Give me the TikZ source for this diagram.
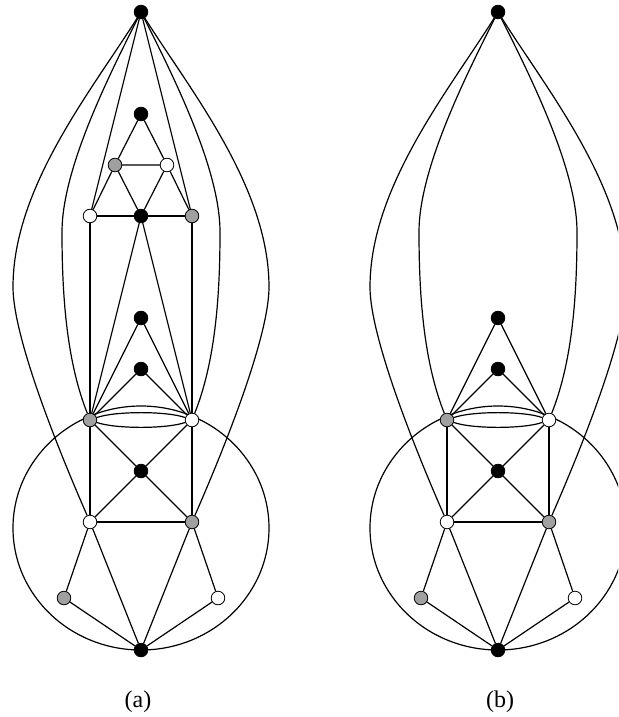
\documentclass[tikz,border=0pt]{standalone}
\usepackage{fontspec}
\setmainfont{Liberation Serif}
\usepackage{xcolor}
\definecolor{vgray}{HTML}{A0A0A0}
\tikzset{
  vtx/.style={circle, draw=black, line width=0.4pt, inner sep=0pt, minimum size=6.8pt},
  vblack/.style={vtx, fill=black},
  vgrey/.style={vtx, fill=vgray},
  vwhite/.style={vtx, fill=white},
  edge/.style={line width=0.6pt}
}
\begin{document}
\begin{tikzpicture}[x=0.5pt, y=-0.5pt]
\useasboundingbox (0,0) rectangle (618,717);
\clip (0,0) rectangle (618,717);
% Common part of both graphs
\foreach \p/\dx/\lx in {a/0/138, b/357/500} {
  % Outer circle
  \draw[edge] (\dx+141,528) ellipse (128 and 122);
  % Vertices
  \node[vblack] (\p-top) at (\dx+141,12) {};
  \node[vblack] (\p-b1) at (\dx+141,318) {};
  \node[vblack] (\p-b2) at (\dx+141,369) {};
  \node[vgrey] (\p-gl) at (\dx+90,420) {};
  \node[vwhite] (\p-wr) at (\dx+192,420) {};
  \node[vblack] (\p-c2) at (\dx+141,471) {};
  \node[vwhite] (\p-wl) at (\dx+90,522) {};
  \node[vgrey] (\p-gr) at (\dx+192,522) {};
  \node[vgrey] (\p-gll) at (\dx+64,598) {};
  \node[vwhite] (\p-wrr) at (\dx+218,598) {};
  \node[vblack] (\p-bot) at (\dx+141,650) {};
  % Edges
  \draw[edge] (\p-b1) -- (\p-gl) (\p-b1) -- (\p-wr);
  \draw[edge] (\p-b2) -- (\p-gl) (\p-b2) -- (\p-wr);
  \draw[edge] (\p-gl) .. controls (\dx+115,411) and (\dx+167,411) .. (\p-wr);
  \draw[edge] (\p-gl) .. controls (\dx+115,429) and (\dx+167,429) .. (\p-wr);
  \draw[edge] (\p-gl) -- (\p-c2) -- (\p-wr);
  \draw[edge] (\p-wl) -- (\p-c2) -- (\p-gr);
  \draw[edge] (\p-gl) -- (\p-wl) -- (\p-gr) -- (\p-wr);
  \draw[edge] (\p-wl) -- (\p-gll) -- (\p-bot);
  \draw[edge] (\p-wl) -- (\p-bot) -- (\p-gr);
  \draw[edge] (\p-gr) -- (\p-wrr) -- (\p-bot);
  % Curves from the top vertex
  \draw[edge] (\p-top) .. controls (\dx+92,90) and (\dx+13,187) .. (\dx+13,287)
    .. controls (\dx+13,337) and (\dx+58,449) .. (\p-wl);
  \draw[edge] (\p-top) .. controls (\dx+190,90) and (\dx+269,187) .. (\dx+269,287)
    .. controls (\dx+269,337) and (\dx+224,449) .. (\p-gr);
  \draw[edge] (\p-top) .. controls (\dx+104,85) and (\dx+62,172) .. (\dx+62,232)
    .. controls (\dx+62,292) and (\dx+66,360) .. (\p-gl);
  \draw[edge] (\p-top) .. controls (\dx+178,85) and (\dx+220,172) .. (\dx+220,232)
    .. controls (\dx+220,292) and (\dx+216,360) .. (\p-wr);
  % Caption
  \node[font=\large] (\p-label) at (\lx,702) {(\p)};
}
% Extra triangle of graph (a)
\node[vblack] (a-k1) at (141,114) {};
\node[vgrey] (a-g1) at (115,165) {};
\node[vwhite] (a-w1) at (167,165) {};
\node[vwhite] (a-w2) at (90,216) {};
\node[vblack] (a-c1) at (141,216) {};
\node[vgrey] (a-g2) at (192,216) {};
\draw[edge] (a-g1) -- (a-k1) -- (a-w1) -- (a-g1);
\draw[edge] (a-w2) -- (a-g1) -- (a-c1) -- (a-w1) -- (a-g2);
\draw[edge] (a-w2) -- (a-c1) -- (a-g2);
\draw[edge] (a-w2) -- (a-gl) (a-g2) -- (a-wr);
\draw[edge] (a-c1) -- (a-gl) (a-c1) -- (a-wr);
\draw[edge] (a-top) -- (a-w2) (a-top) -- (a-g2);
\end{tikzpicture}
\end{document}
